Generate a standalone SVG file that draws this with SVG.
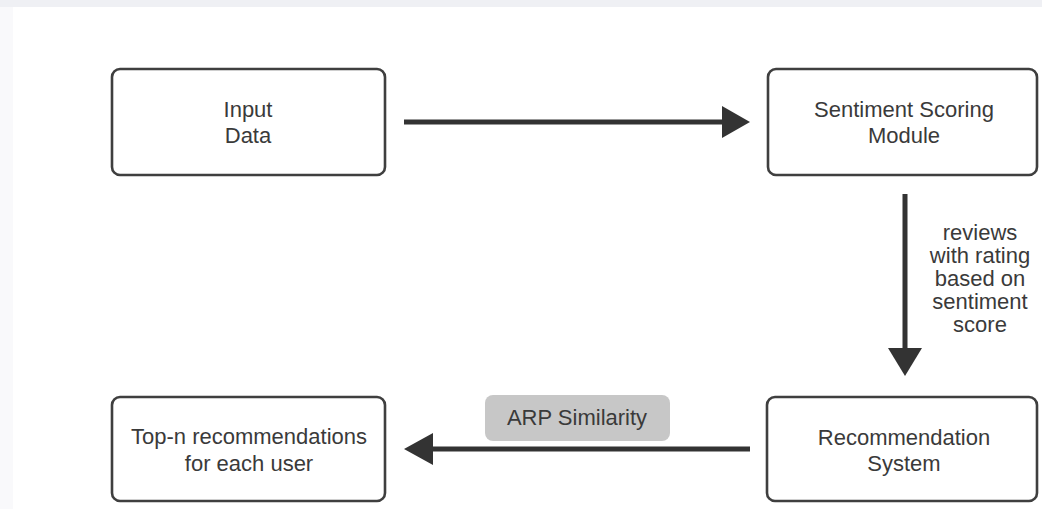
<svg xmlns="http://www.w3.org/2000/svg" width="1042" height="509" viewBox="0 0 1042 509">
  <style>
    .box { fill: #ffffff; stroke: #3f3f3f; stroke-width: 2.6; }
    .t { font-family: "Liberation Sans", Arial, sans-serif; font-size: 22px; fill: #3a3a3a; text-anchor: middle; }
    .edge { stroke: #333333; stroke-width: 5; fill: none; }
    .head { fill: #333333; }
  </style>
  <rect x="0" y="0" width="1042" height="509" fill="#ffffff"/>
  <rect x="0" y="0" width="1042" height="7" fill="#eff0f4"/>
  <rect x="0" y="7" width="13" height="502" fill="#f9f9fb"/>

  <g id="input-data">
    <rect class="box" x="112" y="69" width="273" height="106" rx="8"/>
    <text class="t" x="248" y="117">Input</text>
    <text class="t" x="248" y="143">Data</text>
  </g>
  <g id="sentiment-scoring">
    <rect class="box" x="768" y="69" width="269" height="106" rx="8"/>
    <text class="t" x="904" y="117">Sentiment Scoring</text>
    <text class="t" x="904" y="143">Module</text>
  </g>
  <g id="recommendation-system">
    <rect class="box" x="767" y="397" width="270" height="104" rx="8"/>
    <text class="t" x="904" y="445">Recommendation</text>
    <text class="t" x="904" y="471">System</text>
  </g>
  <g id="top-n">
    <rect class="box" x="112" y="397" width="273" height="104" rx="8"/>
    <text class="t" x="249" y="444">Top-n recommendations</text>
    <text class="t" x="249" y="471">for each user</text>
  </g>

  <g id="connectors">
    <line class="edge" x1="404" y1="122" x2="724" y2="122"/>
    <polygon class="head" points="722,106 750,122 722,138"/>

    <line class="edge" x1="905" y1="194" x2="905" y2="350"/>
    <polygon class="head" points="888,348 922,348 905,376"/>
    <g id="label-reviews">
      <text class="t" x="980" y="240">reviews</text>
      <text class="t" x="980" y="263">with rating</text>
      <text class="t" x="980" y="286">based on</text>
      <text class="t" x="980" y="309">sentiment</text>
      <text class="t" x="980" y="332">score</text>
    </g>

    <line class="edge" x1="750" y1="449" x2="431" y2="449"/>
    <polygon class="head" points="433,433 404,449 433,465"/>
    <g id="label-arp">
      <rect x="485" y="395" width="185" height="46" rx="8" fill="#c7c7c7"/>
      <text class="t" x="577" y="425">ARP Similarity</text>
    </g>
  </g>
</svg>
